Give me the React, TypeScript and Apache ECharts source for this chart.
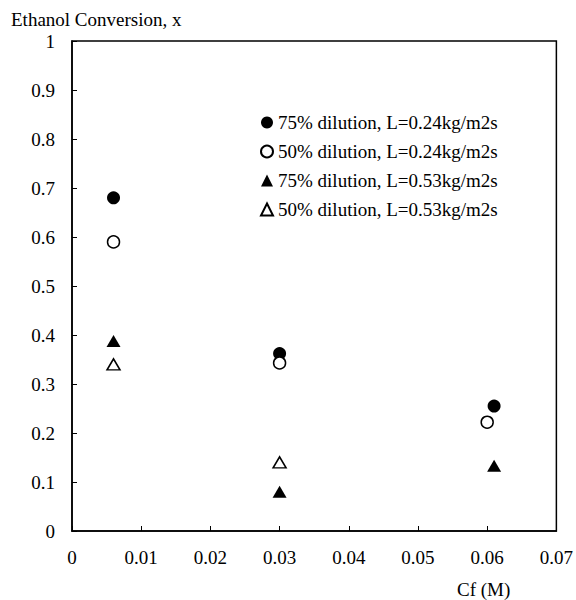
import React, { useEffect, useRef } from "react";
import * as echarts from "echarts";

const seriesNames = [
  "75% dilution, L=0.24kg/m2s",
  "50% dilution, L=0.24kg/m2s",
  "75% dilution, L=0.53kg/m2s",
  "50% dilution, L=0.53kg/m2s",
];
const filledCircle: number[][] = [
  [0.006, 0.68],
  [0.03, 0.362],
  [0.061, 0.255],
];
const openCircle: number[][] = [
  [0.006, 0.59],
  [0.03, 0.343],
  [0.06, 0.222],
];
const filledTriangle: number[][] = [
  [0.006, 0.388],
  [0.03, 0.08],
  [0.061, 0.133],
];
const openTriangle: number[][] = [
  [0.006, 0.34],
  [0.03, 0.14],
];

const FONT = "Liberation Serif";
const FS = 19;

export default function App() {
  const ref = useRef<HTMLDivElement>(null);
  useEffect(() => {
    if (!ref.current) return;
    const chart = echarts.init(ref.current, undefined, { renderer: "svg" });
    const mk = (
      name: string,
      data: number[][],
      symbol: string,
      filled: boolean,
      size: number | number[]
    ) => ({
      name,
      type: "scatter",
      data,
      symbol,
      symbolSize: size,
      itemStyle: filled
        ? { color: "#000", opacity: 1 }
        : { color: "#fff", borderColor: "#000", borderWidth: 1.5, opacity: 1 },
      emphasis: { disabled: true },
    });
    chart.setOption({
      animation: false,
      backgroundColor: "#fff",
      textStyle: { fontFamily: FONT, color: "#000" },
      grid: {
        left: 72,
        right: 18,
        top: 41,
        bottom: 69,
        show: true,
        borderColor: "#000",
        borderWidth: 1.5,
        backgroundColor: "transparent",
      },
      title: {
        text: "Ethanol Conversion, x",
        left: 11,
        top: 10,
        padding: 0,
        textStyle: { fontFamily: FONT, fontSize: FS, fontWeight: "normal", color: "#000" },
      },
      legend: {
        orient: "vertical",
        left: 255,
        top: 108,
        itemGap: 10,
        itemWidth: 12,
        itemHeight: 12,
        textStyle: { fontFamily: FONT, fontSize: FS, color: "#000" },
        data: seriesNames,
      },
      xAxis: {
        type: "value",
        min: 0,
        max: 0.07,
        interval: 0.01,
        axisLine: { lineStyle: { color: "#000", width: 1.5 } },
        axisTick: { inside: true, length: 5, lineStyle: { color: "#000" } },
        axisLabel: { fontFamily: FONT, fontSize: FS, color: "#000", margin: 17 },
        splitLine: { show: false },
      },
      yAxis: {
        type: "value",
        min: 0,
        max: 1,
        interval: 0.1,
        axisLine: { show: true, lineStyle: { color: "#000", width: 1.5 } },
        axisTick: { show: true, inside: true, length: 5, lineStyle: { color: "#000" } },
        axisLabel: { fontFamily: FONT, fontSize: FS, color: "#000", margin: 17 },
        splitLine: { show: false },
      },
      graphic: [
        {
          type: "text",
          left: 457,
          top: 580,
          style: { text: "Cf (M)", font: `${FS}px '${FONT}'`, fill: "#000" },
        },
      ],
      series: [
        mk(seriesNames[0], filledCircle, "circle", true, 13),
        mk(seriesNames[1], openCircle, "circle", false, 12),
        mk(seriesNames[2], filledTriangle, "triangle", true, [14, 12]),
        mk(seriesNames[3], openTriangle, "triangle", false, [13, 11]),
      ],
    });
    return () => chart.dispose();
  }, []);
  return <div ref={ref} style={{ width: 576, height: 600, position: "absolute", left: 0, top: 0 }} />;
}
